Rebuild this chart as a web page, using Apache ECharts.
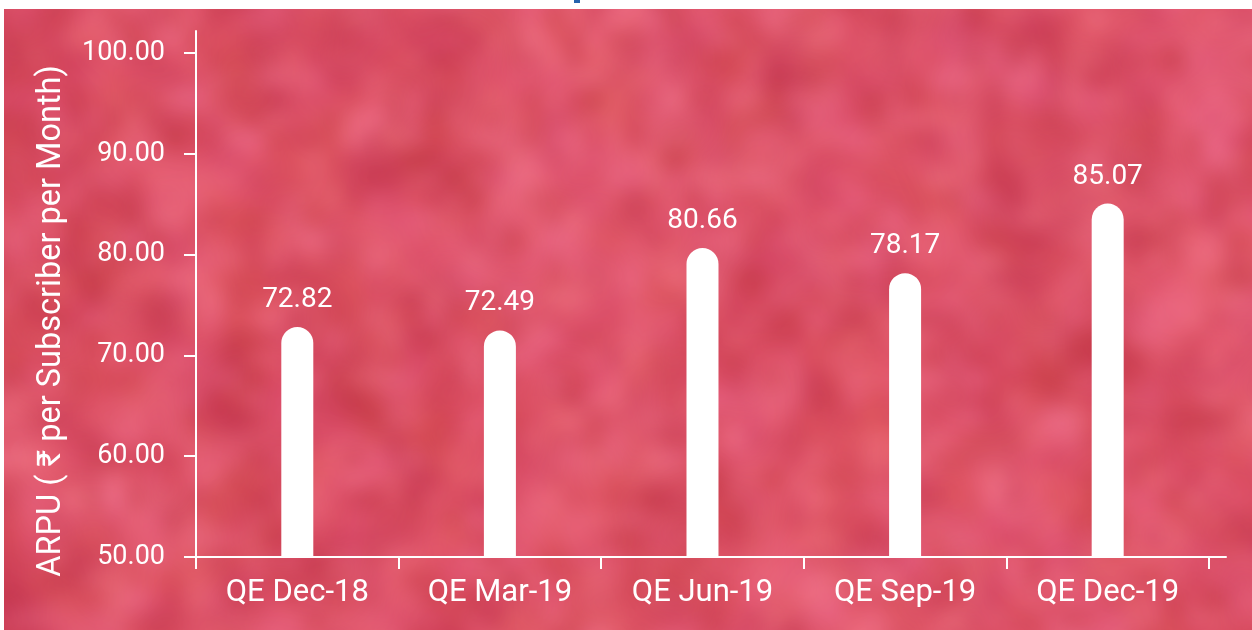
<!DOCTYPE html>
<html>
<head>
<meta charset="utf-8">
<title>ARPU</title>
<script src="https://cdn.jsdelivr.net/npm/echarts@6/dist/echarts.min.js"></script>
<style>
  html, body { margin: 0; padding: 0; background: #ffffff; }
  #wrap { position: relative; width: 1252px; height: 630px; overflow: hidden; background: #ffffff; }
  #bg { position: absolute; left: 4px; top: 9px; width: 1248px; height: 621px; background: #de5268; }
  #mark { position: absolute; left: 574px; top: 0; width: 6px; height: 3px; background: #2563ad; }
  #chart { position: absolute; left: 0; top: 0; width: 1252px; height: 630px; }
</style>
</head>
<body>
<div id="wrap">
  <canvas id="bg" width="1248" height="621"></canvas>
  <div id="mark"></div>
  <div id="chart"></div>
</div>
<script>
// ARPU per quarter (₹ per subscriber per month)
const categories = ['QE Dec-18', 'QE Mar-19', 'QE Jun-19', 'QE Sep-19', 'QE Dec-19'];
const arpu = [72.82, 72.49, 80.66, 78.17, 85.07];
const yTicks = [50, 60, 70, 80, 90, 100];

// ---- soft mottled pink backdrop ----
(function paintBackdrop() {
  const cv = document.getElementById('bg');
  const ctx = cv.getContext('2d');
  const W = cv.width, H = cv.height;

  function hash(x, y, s) {
    let n = Math.imul(x, 374761393) ^ Math.imul(y, 668265263) ^ Math.imul(s, 1442695041);
    n = Math.imul(n ^ (n >>> 13), 1274126177);
    n = n ^ (n >>> 16);
    return (n >>> 0) / 4294967295;
  }
  const dark = [188, 48, 66], mid = [222, 80, 100], light = [240, 116, 142];
  const warm = [228, 94, 82], cool = [226, 78, 128];

  function layer(cell, seed) {
    const margin = 3;
    const cw = Math.ceil(W / cell) + margin * 2, ch = Math.ceil(H / cell) + margin * 2;
    const small = document.createElement('canvas');
    small.width = cw; small.height = ch;
    const sctx = small.getContext('2d');
    const img = sctx.createImageData(cw, ch);
    for (let j = 0; j < ch; j++) {
      for (let i = 0; i < cw; i++) {
        const l = hash(i, j, seed) * 2 - 1;
        const h = hash(i, j, seed + 7) * 2 - 1;
        let c;
        if (l < 0) c = mid.map((m, k) => m + (dark[k] - m) * (-l));
        else c = mid.map((m, k) => m + (light[k] - m) * l);
        const tgt = h < 0 ? warm : cool;
        const a = Math.abs(h) * 0.5;
        c = c.map((v, k) => v + (tgt[k] - mid[k]) * a);
        const p = (j * cw + i) * 4;
        img.data[p] = c[0]; img.data[p + 1] = c[1]; img.data[p + 2] = c[2]; img.data[p + 3] = 255;
      }
    }
    sctx.putImageData(img, 0, 0);
    return { small, cw, ch, margin };
  }

  function draw(L, cell, blur, alpha) {
    ctx.save();
    ctx.globalAlpha = alpha;
    ctx.filter = 'blur(' + blur + 'px)';
    ctx.imageSmoothingEnabled = true;
    ctx.imageSmoothingQuality = 'high';
    ctx.drawImage(L.small, -L.margin * cell, -L.margin * cell, L.cw * cell, L.ch * cell);
    ctx.restore();
  }

  draw(layer(70, 11), 70, 20, 1);
  draw(layer(36, 23), 36, 11, 0.7);
  draw(layer(20, 37), 20, 7, 0.35);
})();

// ---- chart ----
const chart = echarts.init(document.getElementById('chart'), null, { renderer: 'canvas' });
const white = '#ffffff';
const fontFamily = 'Roboto, "Liberation Sans", "DejaVu Sans", sans-serif';
const boundaryTicks = categories.map((_, i) => i - 0.5).concat([categories.length - 0.5]);

chart.setOption({
  backgroundColor: 'transparent',
  animation: false,
  textStyle: { fontFamily: fontFamily },
  grid: { left: 196, right: 26, top: 31, bottom: 73, containLabel: false, outerBoundsMode: 'none' },
  xAxis: {
    type: 'value',
    min: -0.5,
    max: categories.length - 0.5 + 0.084,
    splitLine: { show: false },
    axisLine: { show: true, onZero: false, lineStyle: { color: white, width: 2 } },
    axisTick: { show: true, customValues: boundaryTicks, length: 12, lineStyle: { color: white, width: 2 } },
    axisLabel: {
      customValues: categories.map((_, i) => i),
      formatter: v => categories[Math.round(v)],
      color: white,
      fontSize: 31,
      fontFamily: fontFamily,
      margin: 21
    }
  },
  yAxis: {
    type: 'value',
    min: 50,
    max: 102.2,
    interval: 10,
    splitLine: { show: false },
    axisLine: { show: true, onZero: false, lineStyle: { color: white, width: 2 } },
    axisTick: { show: true, customValues: yTicks, length: 12, lineStyle: { color: white, width: 2 } },
    axisLabel: {
      customValues: yTicks,
      formatter: v => v.toFixed(2),
      color: white,
      fontSize: 27,
      fontFamily: fontFamily,
      margin: 31
    },
    name: 'ARPU ( ₹ per Subscriber per Month)',
    nameLocation: 'middle',
    nameRotate: 90,
    nameGap: 128,
    nameTextStyle: { color: white, fontSize: 32.5, fontFamily: fontFamily, padding: [0, 54, 0, 0] }
  },
  series: [{
    type: 'bar',
    data: arpu.map((v, i) => [i, v]),
    barWidth: 32,
    itemStyle: { color: white, borderRadius: [16, 16, 0, 0] },
    label: {
      show: true,
      position: 'top',
      distance: 13,
      formatter: p => p.value[1].toFixed(2),
      color: white,
      fontSize: 28,
      fontFamily: fontFamily
    }
  }]
});
</script>
</body>
</html>
